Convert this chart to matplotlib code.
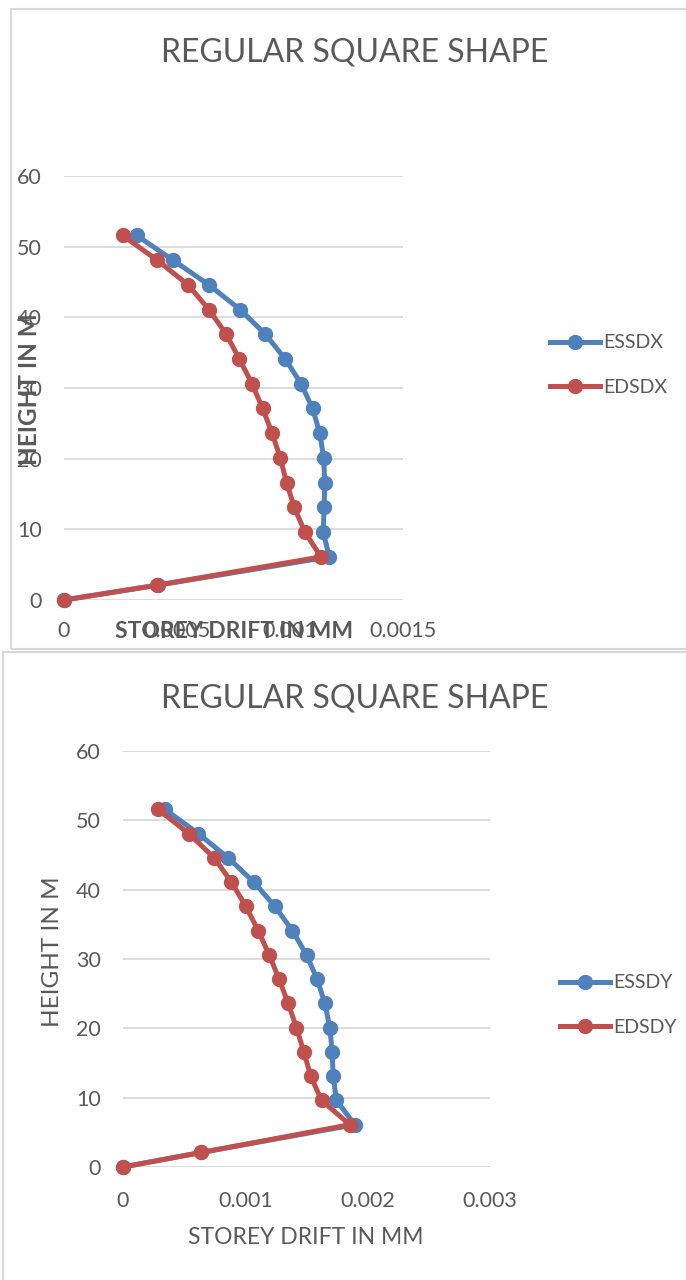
import matplotlib.pyplot as plt
from matplotlib.patches import Rectangle

plt.rcParams['font.family'] = ['Lato', 'DejaVu Sans']

height = [0, 2.1, 6.1, 9.6, 13.1, 16.6, 20.1, 23.6, 27.1, 30.6, 34.1, 37.6, 41.1, 44.6, 48.1, 51.6]

essdx = [0, 0.000416, 0.001174, 0.001147, 0.001151, 0.001154, 0.001149, 0.001132,
         0.0011, 0.001049, 0.000979, 0.000891, 0.000779, 0.000641, 0.000482, 0.000321]
edsdx = [0, 0.000412, 0.001137, 0.001066, 0.001019, 0.000985, 0.000957, 0.000921,
         0.000879, 0.000832, 0.000776, 0.000718, 0.000641, 0.000549, 0.000412, 0.000259]

essdy = [0, 0.000641, 0.001895, 0.001745, 0.001718, 0.00171, 0.001691, 0.00165,
         0.001587, 0.0015, 0.001385, 0.001241, 0.001069, 0.000859, 0.000614, 0.000341]
edsdy = [0, 0.000641, 0.001855, 0.001623, 0.001535, 0.001478, 0.001418, 0.00135,
         0.001276, 0.001195, 0.001105, 0.001004, 0.000886, 0.000745, 0.000537, 0.000286]

yticks = [0, 10, 20, 30, 40, 50, 60]
xticks_top = [0, 0.0005, 0.001, 0.0015]
xlabels_top = ['0', '0.0005', '0.001', '0.0015']
xticks_bot = [0, 0.001, 0.002, 0.003]
xlabels_bot = ['0', '0.001', '0.002', '0.003']

BLUE = '#4F81BD'
RED = '#C0504D'
TXT = '#595959'
GRID = '#D9D9D9'

W, H = 686, 1280
fig = plt.figure(figsize=(W / 100, H / 100), dpi=100)


def px_axes(x0, y0, x1, y1):
    return fig.add_axes([x0 / W, 1 - y1 / H, (x1 - x0) / W, (y1 - y0) / H])


def box(x0, y0, x1, y1):
    fig.patches.append(Rectangle((x0 / W, 1 - y1 / H), (x1 - x0) / W, (y1 - y0) / H,
                                 transform=fig.transFigure, fill=False,
                                 edgecolor=GRID, lw=1.5, zorder=0))


def style(ax, xmax, xt, xl, xpad):
    ax.set_xlim(0, xmax)
    ax.set_ylim(0, 60)
    ax.set_yticks(yticks)
    ax.set_xticks(xt)
    ax.set_xticklabels(xl)
    for s in ax.spines.values():
        s.set_visible(False)
    ax.grid(axis='y', color=GRID, lw=1.3)
    ax.set_axisbelow(True)
    ax.tick_params(length=0, labelsize=15.5, colors=TXT)
    ax.tick_params(axis='x', pad=xpad)
    ax.tick_params(axis='y', pad=16)
    ax.patch.set_alpha(0)


box(11, 9, 690, 649)
box(3, 652, 690, 1285)

# top chart
ax1 = px_axes(64, 176, 403, 600)
ax1.plot(essdx, height, '-o', color=BLUE, lw=3.6, ms=10, label='ESSDX', clip_on=False)
ax1.plot(edsdx, height, '-o', color=RED, lw=3.6, ms=10, label='EDSDX', clip_on=False)
style(ax1, 0.0015, xticks_top, xlabels_top, 15)
fig.text(355 / W, 1 - 52 / H, 'REGULAR SQUARE SHAPE', ha='center', va='center',
         fontsize=23, color=TXT)
fig.text(234 / W, 1 - 632 / H, 'STOREY DRIFT IN MM', ha='center', va='center',
         fontsize=16.5, fontweight='bold', color=TXT)
fig.text(30 / W, 1 - 389 / H, 'HEIGHT IN M', ha='center', va='center', rotation=90,
         fontsize=17.5, fontweight='bold', color=TXT)
ax1.legend(loc='center left', bbox_to_anchor=(532 / W, 1 - 365 / H),
           bbox_transform=fig.transFigure, frameon=False, fontsize=14,
           labelcolor=TXT, handlelength=2.6, labelspacing=1.4, handletextpad=0.15)

# bottom chart
ax2 = px_axes(123, 751, 490, 1167)
ax2.plot(essdy, height, '-o', color=BLUE, lw=3.6, ms=10, label='ESSDY', clip_on=False)
ax2.plot(edsdy, height, '-o', color=RED, lw=3.6, ms=10, label='EDSDY', clip_on=False)
style(ax2, 0.003, xticks_bot, xlabels_bot, 17)
fig.text(355 / W, 1 - 698 / H, 'REGULAR SQUARE SHAPE', ha='center', va='center',
         fontsize=23, color=TXT)
fig.text(306 / W, 1 - 1238 / H, 'STOREY DRIFT IN MM', ha='center', va='center',
         fontsize=16.5, color=TXT)
fig.text(53 / W, 1 - 952 / H, 'HEIGHT IN M', ha='center', va='center', rotation=90,
         fontsize=17.5, color=TXT)
ax2.legend(loc='center left', bbox_to_anchor=(542 / W, 1 - 1005 / H),
           bbox_transform=fig.transFigure, frameon=False, fontsize=14,
           labelcolor=TXT, handlelength=2.6, labelspacing=1.4, handletextpad=0.15)

fig.savefig('out.png', dpi=100)
